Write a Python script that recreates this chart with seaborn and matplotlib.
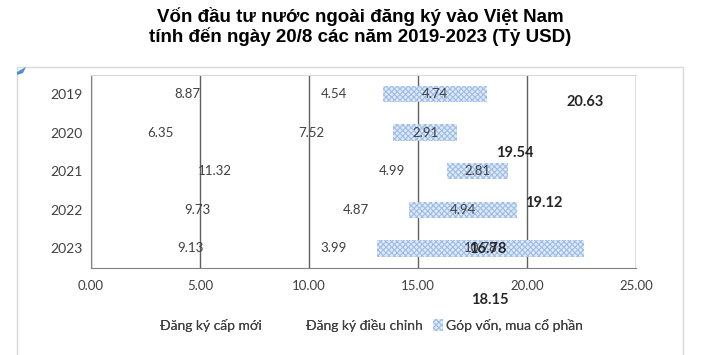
import numpy as np
import pandas as pd
import matplotlib
matplotlib.use("Agg")
import matplotlib.pyplot as plt
from matplotlib.patches import Patch, Rectangle, Polygon
import seaborn as sns

# ---- data ----
years = ['2019', '2020', '2021', '2022', '2023']
dang_ky_moi = [8.87, 6.35, 11.32, 9.73, 9.13]
dieu_chinh = [4.54, 7.52, 4.99, 4.87, 3.99]
gop_von = [4.74, 2.91, 2.81, 4.94, 9.50]
gop_von_labels = ['4.74', '2.91', '2.81', '4.94', '10.78']
tong = ['20.63', '19.54', '19.12', '16.78', '18.15']
# where the total labels ended up in the original (x value, row)
tong_pos = [(22.65, 0.2), (19.42, 1.52), (20.78, 2.82), (18.2, 4.02), (18.3, 5.34)]
series_names = ['Đăng ký cấp mới', 'Đăng ký điều chỉnh', 'Góp vốn, mua cổ phần']

df = pd.DataFrame({'year': years, 'moi': dang_ky_moi,
                   'dc': dieu_chinh, 'gv': gop_von})
left2 = df['moi'].values
left3 = (df['moi'] + df['dc']).values

sns.set_style('white')
plt.rcParams['font.family'] = ['Lato', 'DejaVu Sans']
plt.rcParams['hatch.linewidth'] = 0.8
txt = '#404040'
hatch_face = '#dfe9f7'
hatch_line = '#9dbde6'

fig = plt.figure(figsize=(7.2, 3.55), dpi=100)
ax = fig.add_axes([91 / 720, 1 - 267.7 / 355, 545 / 720, 193 / 355])

bh = 0.43
sns.barplot(data=df, y='year', x='moi', orient='h', ax=ax, width=bh,
            color='white', fill=False, linewidth=0)
sns.barplot(data=df, y='year', x='dc', orient='h', ax=ax, width=bh,
            color='white', fill=False, linewidth=0, left=left2)
sns.barplot(data=df, y='year', x='gv', orient='h', ax=ax, width=bh,
            color=hatch_face, saturation=1, edgecolor=hatch_line, hatch='xxxxxx',
            linewidth=0, left=left3, zorder=3)

# segment labels
for i in range(len(years)):
    ax.text(dang_ky_moi[i] / 2, i, f'{dang_ky_moi[i]:.2f}', ha='center',
            va='center', fontsize=9.5, color=txt, zorder=5)
    ax.text(left2[i] + dieu_chinh[i] / 2, i, f'{dieu_chinh[i]:.2f}',
            ha='center', va='center', fontsize=9.5, color=txt, zorder=5)
    ax.text(left3[i] + gop_von[i] / 2, i, gop_von_labels[i], ha='center',
            va='center', fontsize=9.5, color=txt, zorder=5)

# total labels
for lab, (xv, row) in zip(tong, tong_pos):
    ax.text(xv, row, lab, ha='center', va='center', fontsize=10.5,
            fontweight='bold', color='#262626', zorder=6, clip_on=False)

ax.set_xlim(0, 25)
ax.set_ylim(4.5, -0.5)
ax.set_xticks(np.arange(0, 26, 5))
ax.set_xticklabels([f'{v:.2f}' for v in np.arange(0, 26, 5)])
ax.set_xlabel('')
ax.set_ylabel('')
ax.xaxis.grid(True, color='#606060', linewidth=1, zorder=0)
ax.set_axisbelow(True)

ax.set_yticks(range(len(years)))
ax.set_yticklabels(years)
ax.set_yticks(np.arange(-0.5, 5, 1), minor=True)
ax.tick_params(axis='y', which='major', length=0, pad=6, labelsize=10, labelcolor=txt)
ax.tick_params(axis='y', which='minor', length=5, color='#808080', width=1)
ax.tick_params(axis='x', length=5, color='#808080', width=1, labelsize=9.5,
               labelcolor=txt, pad=4)

for s in ['left', 'bottom']:
    ax.spines[s].set_color('#808080')
ax.spines['top'].set_color('#d9d9d9')
ax.spines['right'].set_visible(False)

# legend: one entry each, placed like the original
handles = [Patch(facecolor='none', edgecolor='none'),
           Patch(facecolor='none', edgecolor='none'),
           Patch(facecolor=hatch_face, edgecolor=hatch_line, hatch='xxxxxx',
                 linewidth=0)]
leg_x = [147, 293, 433]
for h, name, lx in zip(handles, series_names, leg_x):
    lg = fig.legend(handles=[h], labels=[name], loc='center left',
                    bbox_to_anchor=(lx / 720, 1 - 325 / 355), frameon=False,
                    fontsize=10, labelcolor=txt, handlelength=0.7,
                    handleheight=1.0, handletextpad=0.2, borderpad=0,
                    borderaxespad=0)
    fig.add_artist(lg)

# title
fig.text(0.5, 1 - 16 / 355, 'Vốn đầu tư nước ngoài đăng ký vào Việt Nam',
         ha='center', va='center', fontsize=13.5, fontweight='bold',
         family=['Liberation Sans', 'DejaVu Sans'], color='black')
fig.text(0.5, 1 - 37 / 355, 'tính đến ngày 20/8 các năm 2019-2023 (Tỷ USD)',
         ha='center', va='center', fontsize=13.5, fontweight='bold',
         family=['Liberation Sans', 'DejaVu Sans'], color='black')

# outer chart frame and small corner mark
fig.add_artist(Rectangle((17 / 720, -0.05), 666 / 720, 1 - 67 / 355 + 0.05,
                         transform=fig.transFigure, fill=False,
                         edgecolor='#d9d9d9', linewidth=1))
fig.add_artist(Polygon([(17 / 720, 1 - 75 / 355), (17 / 720, 1 - 72 / 355),
                        (26 / 720, 1 - 67 / 355), (23 / 720, 1 - 73 / 355)],
                       closed=True, transform=fig.transFigure,
                       facecolor='#4a90d9', edgecolor='none'))

fig.savefig('out.png', dpi=100)
